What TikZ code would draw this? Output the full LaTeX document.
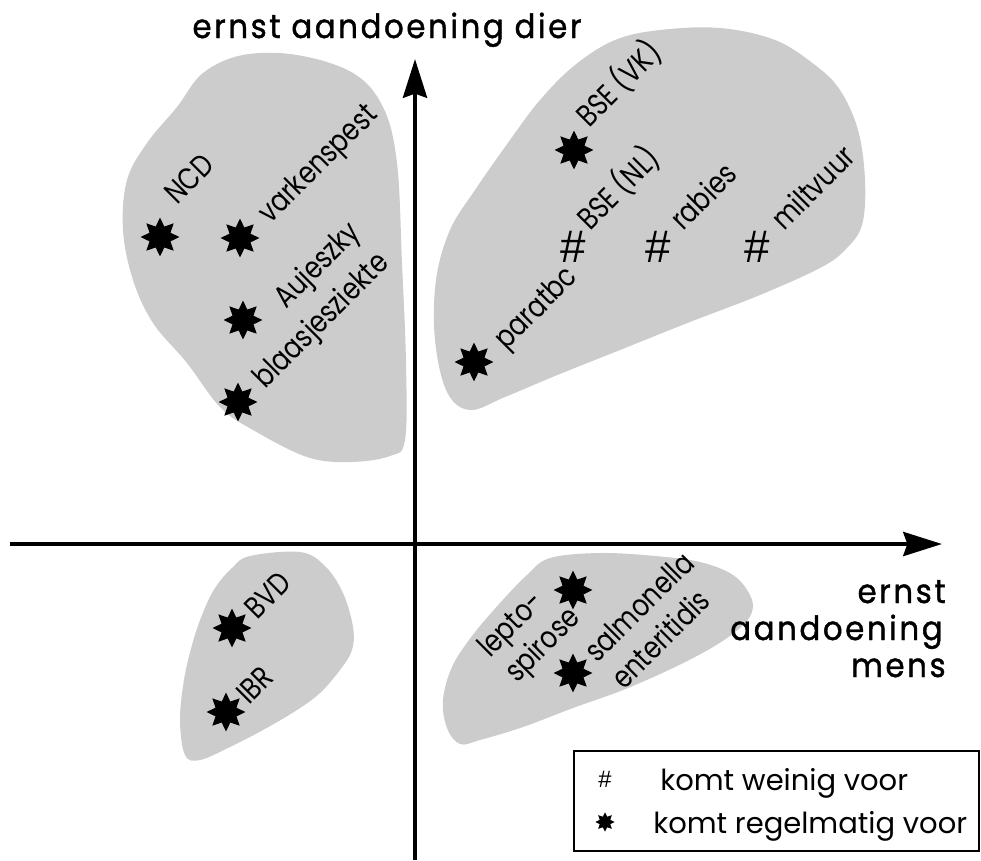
\documentclass[tikz,border=0pt]{standalone}
\usepackage{fontspec}
\setmainfont{Poppins}
\newfontfamily\lblfont{Poppins}[FakeStretch=0.82]
\newfontfamily\axisfont{Poppins}[FakeStretch=0.92,FakeBold=1.2,LetterSpace=8]
\newfontfamily\hashfont{Liberation Sans}
\usetikzlibrary{arrows.meta,shapes.geometric}
\definecolor{blobgray}{HTML}{CCCCCC}

\begin{document}
\begin{tikzpicture}[x=0.02cm,y=-0.02cm,
  blob/.style={fill=blobgray,draw=none},
  bigstar/.style={star,star points=8,star point ratio=1.7,fill=black,draw=none,inner sep=0pt,minimum size=22pt},
  smallstar/.style={bigstar,minimum size=11pt},
  hashmark/.style={font=\hashfont\fontsize{26}{26}\selectfont,inner sep=0pt},
  lbl/.style={font=\lblfont\fontsize{17.5}{20}\selectfont,rotate=45,anchor=base west,inner sep=0pt},
  axislbl/.style={font=\axisfont\fontsize{19}{22}\selectfont,inner sep=0pt},
  legtext/.style={font=\fontsize{16.5}{20}\selectfont,anchor=base west,inner sep=0pt},
  axisline/.style={line width=2.55pt,-{Stealth[length=22pt,width=13.6pt,inset=2.3pt]}}]

\useasboundingbox (0,0) rectangle (981,860);

% grey regions
\fill[blob] plot[smooth cycle,tension=0.6] coordinates {
  (243,55) (297,55) (353,73) (383,107) (397,163) (402,263) (406,363)
  (405,440) (390,456) (350,462) (307,457) (253,430) (220,407) (187,363)
  (153,323) (133,280) (123,230) (127,180) (147,143) (177,107) (203,73)};
\fill[blob] plot[smooth cycle,tension=0.6] coordinates {
  (470,410) (447,392) (435,340) (436,280) (450,230) (475,190) (510,140)
  (540,100) (575,65) (615,40) (660,30) (720,28) (775,40) (815,65)
  (840,90) (858,130) (865,180) (862,225) (845,250) (820,268) (760,295)
  (690,322) (620,350) (555,376) (505,397)};
\fill[blob] plot[smooth cycle,tension=0.6] coordinates {
  (250,556) (300,552) (325,566) (343,593) (353,627) (352,650) (340,670)
  (320,693) (297,710) (263,730) (230,747) (200,760) (185,755) (180,720)
  (184,680) (192,645) (202,615) (215,588) (232,568)};
\fill[blob] plot[smooth cycle,tension=0.6] coordinates {
  (550,558) (600,553) (655,556) (700,562) (733,575) (750,595) (752,612)
  (740,628) (713,647) (673,668) (623,690) (573,708) (523,727) (480,740)
  (460,744) (447,728) (443,700) (452,667) (472,636) (500,603) (527,575)};

% axes
\coordinate (xstart) at (10,544);
\coordinate (xend) at (942,544);
\coordinate (ystart) at (415,860);
\coordinate (yend) at (415,59);
\draw[axisline] (xstart) -- (xend);
\draw[axisline] (ystart) -- (yend);

\node[axislbl,anchor=base] (ylab) at (387,38) {ernst aandoening dier};
\node[axislbl,anchor=base east] (xlab1) at (946,603) {ernst};
\node[axislbl,anchor=base east] (xlab2) at (943,640) {aandoening};
\node[axislbl,anchor=base east] (xlab3) at (946,677) {mens};

% upper left
\node[bigstar] (ncd) at (160,237) {};
\node[bigstar] (vark) at (240,238) {};
\node[bigstar] (auj) at (243,320) {};
\node[bigstar] (blaas) at (238,402) {};
\node[lbl] (ncdl) at (177,206) {NCD};
\node[lbl] (varkl) at (270,225) {varkenspest};
\node[lbl] (aujl) at (286,310) {Aujeszky};
\node[lbl] (blaasl) at (265,390) {blaasjesziekte};

% upper right
\node[bigstar] (bsevk) at (574,150) {};
\node[bigstar] (para) at (474,362) {};
\node[hashmark] (bsenl) at (573,247) {\#};
\node[hashmark] (rab) at (658,247) {\#};
\node[hashmark] (milt) at (757,247) {\#};
\node[lbl] (bsevkl) at (589,129) {BSE (VK)};
\node[lbl] (bsenll) at (590,232) {BSE (NL)};
\node[lbl] (rabl) at (683,232) {rabies};
\node[lbl] (miltl) at (784,232) {miltvuur};
\node[lbl] (paral) at (506,351) {paratbc};

% lower left
\node[bigstar] (bvd) at (232,628) {};
\node[bigstar] (ibr) at (226,712) {};
\node[lbl] (bvdl) at (257,621) {BVD};
\node[lbl] (ibrl) at (249,706) {IBR};

% lower right
\node[bigstar] (lepto) at (573,590) {};
\node[bigstar] (salm) at (573,673) {};
\node[lbl] (leptol1) at (490,659) {lepto-};
\node[lbl] (leptol2) at (517,684) {spirose};
\node[lbl] (salml1) at (597,664) {salmonella};
\node[lbl] (salml2) at (624,691) {enteritidis};

% legend
\node[draw,line width=1.1pt,inner sep=0pt,minimum width=405*0.02cm,minimum height=100*0.02cm,anchor=north west] (legend) at (573,750) {};
\node[hashmark,font=\hashfont\fontsize{13.5}{13.5}\selectfont] (leghash) at (605,779) {\#};
\node[smallstar] (legstar) at (605,822) {};
\node[legtext] (legt1) at (660,790) {komt weinig voor};
\node[legtext] (legt2) at (653,833) {komt regelmatig voor};
\end{tikzpicture}
\end{document}
